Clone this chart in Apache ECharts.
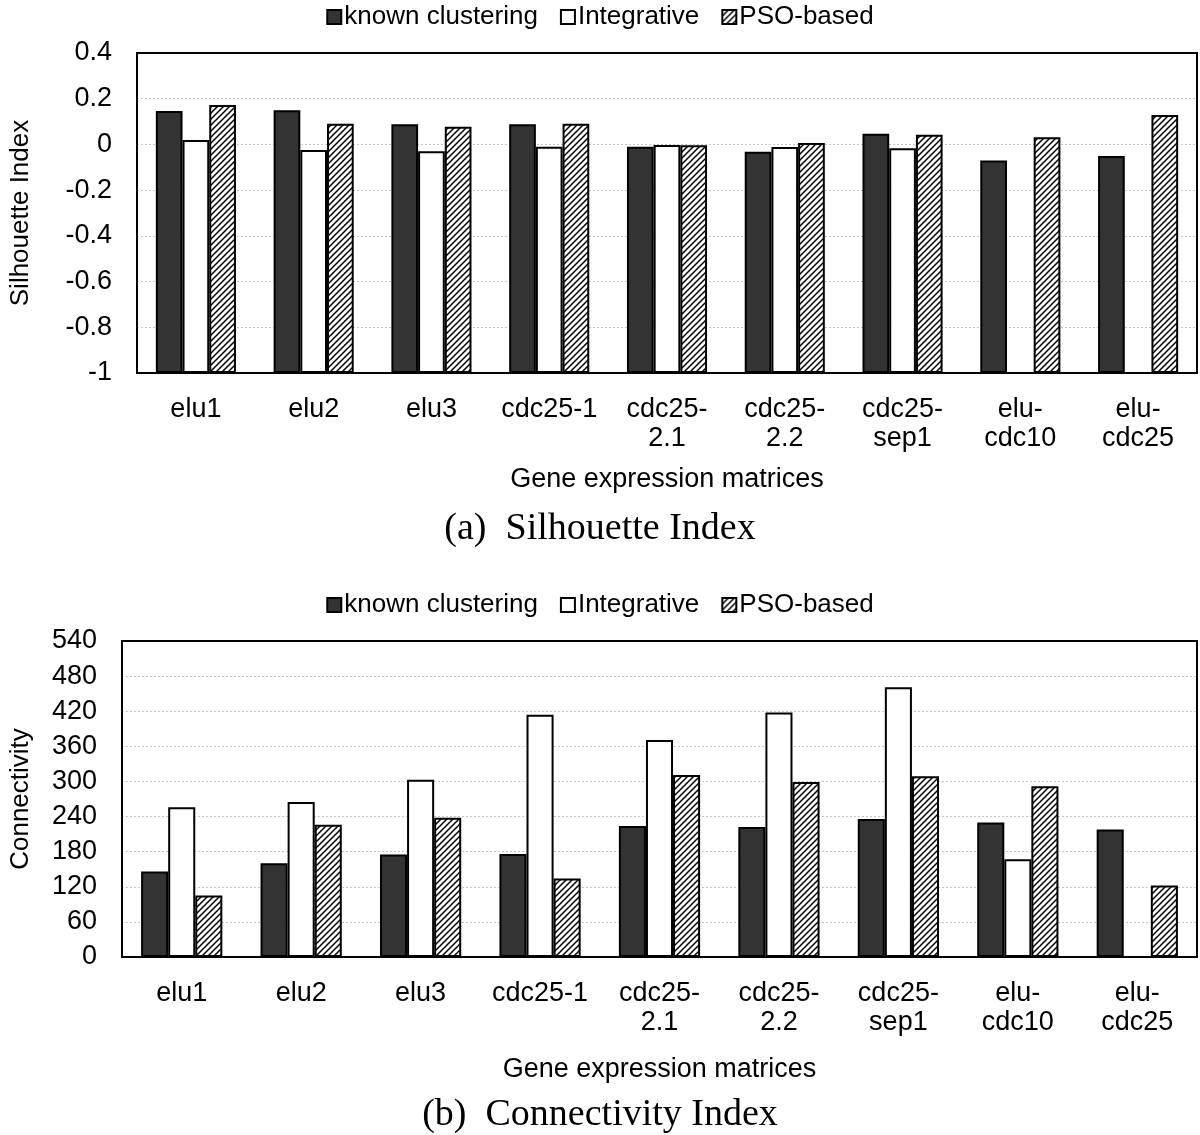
<!DOCTYPE html>
<html>
<head>
<meta charset="utf-8">
<script src="https://cdn.jsdelivr.net/npm/echarts@6/dist/echarts.min.js"></script>
<style>
html,body{margin:0;padding:0;background:#fff;}
#c{width:1200px;height:1135px;}
</style>
</head>
<body>
<div id="c"></div>
<script>
const categories = ['elu1', 'elu2', 'elu3', 'cdc25-1', 'cdc25-\n2.1', 'cdc25-\n2.2', 'cdc25-\nsep1', 'elu-\ncdc10', 'elu-\ncdc25'];
const seriesNames = ['known clustering', 'Integrative', 'PSO-based'];

// (a) Silhouette Index
const silKnown = [0.146, 0.149, 0.088, 0.088, -0.010, -0.032, 0.047, -0.070, -0.051];
const silIntegrative = [0.019, -0.024, -0.030, -0.010, -0.003, -0.011, -0.017, null, null];
const silPSO = [0.172, 0.090, 0.077, 0.090, -0.004, 0.006, 0.042, 0.031, 0.129];
const silTicks = { min: -1, max: 0.4, interval: 0.2 };

// (b) Connectivity Index
const conKnown = [146, 160, 175, 176, 224, 222, 236, 230, 218];
const conIntegrative = [256, 265, 303, 414, 371, 418, 461, 167, null];
const conPSO = [105, 226, 238, 134, 311, 299, 309, 292, 122];
const conTicks = { min: 0, max: 540, interval: 60 };

const FONT = '"Liberation Sans", Arial, Helvetica, sans-serif';
const SERIF = '"Liberation Serif", "Times New Roman", serif';

// diagonal hatch pattern
function hatch() {
  const s = 6;
  const c = document.createElement('canvas');
  c.width = s; c.height = s;
  const g = c.getContext('2d');
  g.fillStyle = '#fff';
  g.fillRect(0, 0, s, s);
  g.strokeStyle = '#000';
  g.lineWidth = 1.5;
  g.beginPath();
  g.moveTo(-1, s + 1); g.lineTo(s + 1, -1);
  g.moveTo(-1, 1); g.lineTo(1, -1);
  g.moveTo(s - 1, s + 1); g.lineTo(s + 1, s - 1);
  g.stroke();
  return c;
}
const hatchPattern = { image: hatch(), repeat: 'repeat' };

const styles = [
  { color: '#333333', borderColor: '#000', borderWidth: 2 },
  { color: '#ffffff', borderColor: '#000', borderWidth: 2 },
  { color: hatchPattern, borderColor: '#000', borderWidth: 2 }
];

function xAxis(gridIndex, nameGap) {
  return {
    type: 'category', gridIndex, data: categories,
    name: 'Gene expression matrices', nameLocation: 'middle', nameGap,
    nameTextStyle: { fontFamily: FONT, fontSize: 27, color: '#000' },
    axisLine: { onZero: false, lineStyle: { color: '#000', width: 2 } },
    axisTick: { show: false },
    axisLabel: { interval: 0, fontFamily: FONT, fontSize: 27, color: '#000', lineHeight: 29, margin: 22 }
  };
}
function yAxis(gridIndex, t, name, nameGap, fmt) {
  return {
    type: 'value', gridIndex, min: t.min, max: t.max, interval: t.interval, startValue: t.min,
    name, nameLocation: 'middle', nameGap,
    nameTextStyle: { fontFamily: FONT, fontSize: 26, color: '#000' },
    axisLine: { show: true, onZero: false, lineStyle: { color: '#000', width: 2 } },
    axisTick: { show: false },
    axisLabel: { fontFamily: FONT, fontSize: 27, color: '#000', margin: 25, formatter: fmt },
    splitLine: { show: true, lineStyle: { color: '#c4c4c4', width: 1, type: [2, 2] } }
  };
}
function legend(top) {
  return {
    top, left: 'center', data: seriesNames, icon: 'rect',
    itemWidth: 14, itemHeight: 14, itemGap: 22,
    textStyle: { fontFamily: FONT, fontSize: 26, color: '#000', padding: [0, 0, 0, -2] },
    selectedMode: false
  };
}
function bars(xi, yi, arrs) {
  return arrs.map((d, i) => ({
    type: 'bar', name: seriesNames[i], xAxisIndex: xi, yAxisIndex: yi, data: d,
    barGap: '0%', barCategoryGap: '32%', itemStyle: styles[i], animation: false,
    emphasis: { disabled: true }
  }));
}

const chart = echarts.init(document.getElementById('c'), null, { renderer: 'canvas' });
chart.setOption({
  backgroundColor: '#fff',
  animation: false,
  legend: [legend(-1), legend(587)],
  grid: [
    { left: 130, right: 3, top: 53, height: 320, show: true, z: 5, borderColor: '#000', borderWidth: 2, backgroundColor: 'transparent' },
    { left: 115, right: 3, top: 641, height: 316, show: true, z: 5, borderColor: '#000', borderWidth: 2, backgroundColor: 'transparent' }
  ],
  xAxis: [xAxis(0, 93), xAxis(1, 99)],
  yAxis: [
    yAxis(0, silTicks, 'Silhouette Index', 103, v => String(Math.round(v * 10) / 10)),
    yAxis(1, conTicks, 'Connectivity', 88, v => String(Math.round(v)))
  ],
  series: [
    ...bars(0, 0, [silKnown, silIntegrative, silPSO]),
    ...bars(1, 1, [conKnown, conIntegrative, conPSO])
  ],
  graphic: [
    { type: 'text', left: 'center', top: 510, style: { text: '(a)  Silhouette Index', font: '38px ' + SERIF, fill: '#000' } },
    { type: 'text', left: 'center', top: 1096, style: { text: '(b)  Connectivity Index', font: '38px ' + SERIF, fill: '#000' } }
  ]
});
</script>
</body>
</html>
